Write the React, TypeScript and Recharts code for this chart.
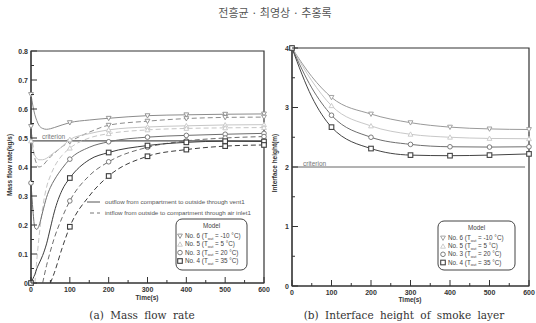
import { LineChart, Line, XAxis, YAxis, ReferenceLine, ReferenceArea } from 'recharts';

// time axis (s) for the mass flow chart
const TIME_A = [0, 5, 10, 15, 20, 30, 40, 50, 60, 80, 100, 150, 200, 300, 400, 500, 600];
// outflow (solid) / inflow (dashed), kg/s
const OUT6 = [0.65, 0.61, 0.58, 0.56, 0.545, 0.533, 0.53, 0.532, 0.536, 0.545, 0.553, 0.562, 0.568, 0.577, 0.58, 0.582, 0.583];
const IN6 = [0.54, 0.47, 0.43, 0.41, 0.4, 0.405, 0.42, 0.435, 0.447, 0.47, 0.487, 0.52, 0.544, 0.558, 0.567, 0.571, 0.572];
const OUT5 = [0.49, 0.46, 0.44, 0.43, 0.425, 0.425, 0.43, 0.44, 0.45, 0.47, 0.495, 0.515, 0.528, 0.538, 0.542, 0.545, 0.546];
const IN5 = [null, null, 0, 0.08, 0.15, 0.26, 0.33, 0.37, 0.4, 0.44, 0.465, 0.5, 0.515, 0.528, 0.533, 0.535, 0.536];
const OUT3 = [0.345, 0.25, 0.19, 0.185, 0.195, 0.245, 0.295, 0.33, 0.355, 0.395, 0.427, 0.468, 0.487, 0.503, 0.509, 0.513, 0.516];
const IN3 = [null, null, null, null, null, 0, 0.06, 0.11, 0.155, 0.225, 0.283, 0.37, 0.418, 0.468, 0.49, 0.5, 0.505];
const OUT4 = [0, 0.015, 0.03, 0.05, 0.065, 0.095, 0.135, 0.19, 0.245, 0.32, 0.362, 0.425, 0.45, 0.474, 0.485, 0.489, 0.488];
const IN4 = [null, null, null, null, null, null, null, 0, 0.035, 0.12, 0.194, 0.3, 0.369, 0.437, 0.46, 0.472, 0.476];
const FLOW_CRITERION = 0.49;

// interface height chart
const TIME_B = [0, 50, 100, 200, 300, 400, 500, 600];
const H6 = [4, 3.52, 3.17, 2.89, 2.745, 2.67, 2.64, 2.63];
const H5 = [4, 3.45, 3.03, 2.69, 2.55, 2.5, 2.48, 2.475];
const H3 = [4, 3.33, 2.87, 2.5, 2.38, 2.34, 2.335, 2.34];
const H4 = [4, 3.18, 2.67, 2.31, 2.2, 2.19, 2.2, 2.22];
const HEIGHT_CRITERION = 2;
const HEIGHT_CRITERION_END = 590;

const X_TICKS = [0, 50, 100, 150, 200, 250, 300, 350, 400, 450, 500, 550, 600];
const FLOW_Y_TICKS = [0, 0.05, 0.1, 0.15, 0.2, 0.25, 0.3, 0.35, 0.4, 0.45, 0.5, 0.55, 0.6, 0.65, 0.7, 0.75, 0.8];
const HEIGHT_Y_TICKS = [0, 0.5, 1, 1.5, 2, 2.5, 3, 3.5, 4];

const MODELS = [
  { shape: 'down', name: 'No. 6', temp: '-10' },
  { shape: 'up', name: 'No. 5', temp: '5' },
  { shape: 'circle', name: 'No. 3', temp: '20' },
  { shape: 'square', name: 'No. 4', temp: '35' },
];

const C6 = '#8c8c8c';
const C5 = '#c6c6c6';
const C3 = '#6e6e6e';
const C4 = '#3c3c3c';
const H_COLORS = ['#9a9a9a', '#c8c8c8', '#6f6f6f', '#444'];

const FONT = '"Liberation Sans", Arial, sans-serif';

const flowData = TIME_A.map((t, i) => ({
  t, out6: OUT6[i], in6: IN6[i], out5: OUT5[i], in5: IN5[i],
  out3: OUT3[i], in3: IN3[i], out4: OUT4[i], in4: IN4[i],
}));
const heightData = TIME_B.map((t, i) => ({ t, h6: H6[i], h5: H5[i], h3: H3[i], h4: H4[i] }));

function Marker({ shape, cx, cy, color }: { shape: string; cx: number; cy: number; color: string }) {
  const s = 2.4;
  if (shape === 'down')
    return <polygon points={`${cx - s},${cy - s * 0.8} ${cx + s},${cy - s * 0.8} ${cx},${cy + s}`} fill="#fff" stroke={color} strokeWidth={0.9} />;
  if (shape === 'up')
    return <polygon points={`${cx - s},${cy + s * 0.8} ${cx + s},${cy + s * 0.8} ${cx},${cy - s}`} fill="#fff" stroke={color} strokeWidth={0.9} />;
  if (shape === 'circle') return <circle cx={cx} cy={cy} r={2.3} fill="#fff" stroke={color} strokeWidth={0.9} />;
  return <rect x={cx - 2.3} y={cy - 2.3} width={4.6} height={4.6} fill="#fff" stroke={color} strokeWidth={1.1} />;
}

const makeDot = (shape: string, color: string) => (props: any) => {
  const { cx, cy, payload, index } = props;
  if (cy == null || payload.t % 100 !== 0) return <g key={index} />;
  return <Marker key={index} shape={shape} cx={cx} cy={cy} color={color} />;
};

function XTick({ x, y, payload }: any) {
  const major = payload.value % 100 === 0;
  return (
    <g>
      <line x1={x} x2={x} y1={y} y2={y - (major ? 6 : 3)} stroke="#333" />
      {major && (
        <text x={x} y={y + 9} textAnchor="middle" fontSize={7} fontWeight="bold" fill="#333" fontFamily={FONT}>
          {payload.value}
        </text>
      )}
    </g>
  );
}

const makeYTick = (step: number, fmt: (v: number) => string) => ({ x, y, payload }: any) => {
  const v = payload.value;
  const major = Math.abs(v / step - Math.round(v / step)) < 1e-6;
  return (
    <g>
      <line x1={x} x2={x + (major ? 6 : 3)} y1={y} y2={y} stroke="#333" />
      {major && (
        <text x={x - 3} y={y + 2.5} textAnchor="end" fontSize={7} fontWeight="bold" fill="#333" fontFamily={FONT}>
          {fmt(v)}
        </text>
      )}
    </g>
  );
};

function ModelBox({ x, y, w, h, rowX, rows, colors }: any) {
  return (
    <g fontFamily={FONT} fontSize={6.3} fill="#444">
      <rect x={x} y={y} width={w} height={h} rx={6} fill="#fff" stroke="#444" strokeWidth={1} />
      <text x={x + w / 2} y={y + 8.5} textAnchor="middle">Model</text>
      {MODELS.map((m, i) => (
        <g key={m.name}>
          <Marker shape={m.shape} cx={rowX} cy={rows[i] - 2} color={colors[i]} />
          <text x={rowX + 5} y={rows[i]}>
            {m.name} (T<tspan fontSize={4} dy={1.5}>out</tspan>
            <tspan dy={-1.5}> = {m.temp} °C)</tspan>
          </text>
        </g>
      ))}
    </g>
  );
}

export default function App() {
  return (
    <div style={{ position: 'absolute', left: 0, top: 0, width: 536, height: 323, background: '#fff', overflow: 'hidden' }}>
      <div style={{ position: 'absolute', left: 0, top: 0 }}>
        <LineChart width={270} height={323} data={flowData} margin={{ top: 51, left: 30, right: 6, bottom: 39 }}>
          <XAxis dataKey="t" type="number" domain={[0, 600]} ticks={X_TICKS} height={1} tickSize={0} tickMargin={0}
            tickLine={false} axisLine={{ stroke: '#333' }} tick={<XTick />} interval={0} />
          <YAxis type="number" domain={[0, 0.8]} ticks={FLOW_Y_TICKS} width={1} tickSize={0} tickMargin={0}
            tickLine={false} axisLine={{ stroke: '#333' }} interval={0}
            tick={makeYTick(0.1, (v) => (v === 0 ? '0' : v.toFixed(1)))} />
          <ReferenceArea x1={0} x2={600} y1={0} y2={0.8} fill="none" stroke="#333" strokeWidth={1.2} fillOpacity={0} />
          <ReferenceLine y={FLOW_CRITERION} stroke="#555" strokeWidth={1.2} />
          <Line dataKey="out6" type="monotone" stroke={C6} strokeWidth={1} dot={makeDot('down', C6)} activeDot={false} isAnimationActive={false} />
          <Line dataKey="in6" type="monotone" stroke={C6} strokeWidth={1} strokeDasharray="5 3" dot={makeDot('down', C6)} activeDot={false} isAnimationActive={false} />
          <Line dataKey="out5" type="monotone" stroke={C5} strokeWidth={1} dot={makeDot('up', C5)} activeDot={false} isAnimationActive={false} />
          <Line dataKey="in5" type="monotone" stroke={C5} strokeWidth={1} strokeDasharray="5 3" dot={makeDot('up', C5)} activeDot={false} isAnimationActive={false} />
          <Line dataKey="out3" type="monotone" stroke={C3} strokeWidth={1} dot={makeDot('circle', C3)} activeDot={false} isAnimationActive={false} />
          <Line dataKey="in3" type="monotone" stroke={C3} strokeWidth={1} strokeDasharray="5 3" dot={makeDot('circle', C3)} activeDot={false} isAnimationActive={false} />
          <Line dataKey="out4" type="monotone" stroke={C4} strokeWidth={1} dot={makeDot('square', C4)} activeDot={false} isAnimationActive={false} />
          <Line dataKey="in4" type="monotone" stroke={C4} strokeWidth={1} strokeDasharray="5 3" dot={makeDot('square', C4)} activeDot={false} isAnimationActive={false} />
        </LineChart>
      </div>
      <div style={{ position: 'absolute', left: 270, top: 0 }}>
        <LineChart width={266} height={323} data={heightData} margin={{ top: 48, left: 21, right: 7, bottom: 36 }}>
          <XAxis dataKey="t" type="number" domain={[0, 600]} ticks={X_TICKS} height={1} tickSize={0} tickMargin={0}
            tickLine={false} axisLine={{ stroke: '#333' }} tick={<XTick />} interval={0} />
          <YAxis type="number" domain={[0, 4]} ticks={HEIGHT_Y_TICKS} width={1} tickSize={0} tickMargin={0}
            tickLine={false} axisLine={{ stroke: '#333' }} interval={0}
            tick={makeYTick(1, (v) => String(v))} />
          <ReferenceArea x1={0} x2={600} y1={0} y2={4} fill="none" stroke="#333" strokeWidth={1.2} fillOpacity={0} />
          <ReferenceLine segment={[{ x: 0, y: HEIGHT_CRITERION }, { x: HEIGHT_CRITERION_END, y: HEIGHT_CRITERION }]} stroke="#666" strokeWidth={1} />
          {['h6', 'h5', 'h3', 'h4'].map((k, i) => (
            <Line key={k} dataKey={k} type="monotone" stroke={H_COLORS[i]} strokeWidth={1}
              dot={makeDot(MODELS[i].shape, H_COLORS[i])} activeDot={false} isAnimationActive={false} />
          ))}
        </LineChart>
      </div>
      <svg width={536} height={323} style={{ position: 'absolute', left: 0, top: 0, pointerEvents: 'none' }}>
        <text x={275} y={17} textAnchor="middle" fontSize={11} fill="#555" fontFamily='"Noto Sans CJK KR", sans-serif'>
          전흥균 · 최영상 · 추홍록
        </text>

        <text transform="translate(12,165) rotate(-90)" textAnchor="middle" fontSize={6.5} fontWeight="bold" fill="#333" fontFamily={FONT}>
          Mass flow rate(kg/s)
        </text>
        <text x={147} y={300} textAnchor="middle" fontSize={6.5} fontWeight="bold" fill="#333" fontFamily={FONT}>Time(s)</text>
        <text x={42} y={139} fontSize={6.5} fill="#777" fontFamily={FONT}>criterion</text>

        <g fontFamily={FONT} fontSize={6.2} fill="#555">
          <line x1={87} x2={100} y1={202} y2={202} stroke="#555" strokeWidth={1} />
          <text x={105} y={204}>outflow from compartment to outside through vent1</text>
          <line x1={90} x2={100} y1={213} y2={213} stroke="#777" strokeWidth={1} strokeDasharray="4 3" />
          <text x={105} y={215}>intflow from outside to compartment through air inlet1</text>
        </g>
        <ModelBox x={176} y={219} w={71} h={51} rowX={180} rows={[238, 246.3, 254.6, 263]} colors={[C6, C5, C3, C4]} />

        <text transform="translate(277,163) rotate(-90)" textAnchor="middle" fontSize={6.5} fontWeight="bold" fill="#333" fontFamily={FONT}>
          Interface height(m)
        </text>
        <text x={410} y={302} textAnchor="middle" fontSize={6.5} fontWeight="bold" fill="#333" fontFamily={FONT}>Time(s)</text>
        <text x={303} y={166} fontSize={6.5} fill="#777" fontFamily={FONT}>criterion</text>
        <ModelBox x={438} y={221} w={77} h={49} rowX={443} rows={[240, 248.3, 256.3, 264.5]} colors={H_COLORS} />

        <text x={142} y={319} textAnchor="middle" fontSize={10.5} fill="#333" fontFamily='"DejaVu Serif", serif' wordSpacing={3}>
          (a)  Mass  flow  rate
        </text>
        <text x={404} y={319} textAnchor="middle" fontSize={10.5} fill="#333" fontFamily='"DejaVu Serif", serif' wordSpacing={3}>
          (b)  Interface  height  of  smoke  layer
        </text>
      </svg>
    </div>
  );
}
